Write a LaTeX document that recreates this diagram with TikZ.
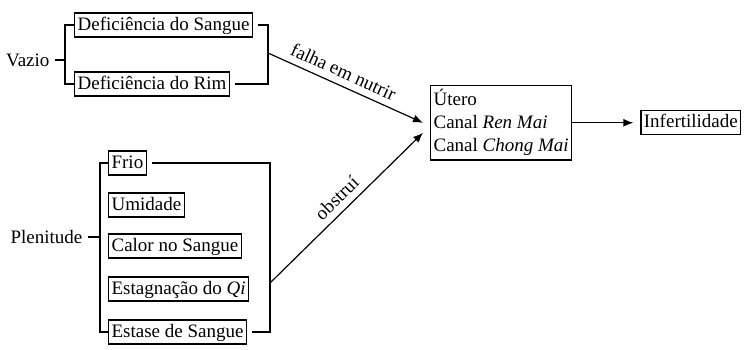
\documentclass[tikz,border=0pt]{standalone}
\usepackage{fontspec}
\setmainfont{Liberation Serif}
\usetikzlibrary{arrows.meta,positioning}

\begin{document}
\begin{tikzpicture}[x=0.5pt, y=-0.5pt, font=\fontsize{9.5}{11.5}\selectfont, line width=0.6pt,
  cause/.style={draw, anchor=west, inner sep=1.5pt, text height=7pt, text depth=2pt},
  group/.style={anchor=east, inner sep=0pt},
  flow/.style={-{Latex[length=5pt,width=4pt]}}]
  \useasboundingbox (0,0) rectangle (747,349);
  % vazio
  \node[group] (vazio) at (50,60) {Vazio};
  \node[cause] (sangue) at (74,25) {Deficiência do Sangue};
  \node[cause] (rim) at (74,84) {Deficiência do Rim};
  \coordinate (vl) at (65,60);
  \coordinate (vr) at (268,53);
  \draw ([xshift=2.5pt]vazio.east) -- (vl);
  \draw (sangue.west) -| (vl) |- (rim.west);
  \draw ([xshift=2.5pt]sangue.east) -| (vr) |- ([xshift=2.5pt]rim.east);
  % plenitude
  \node[group] (plenitude) at (83,237) {Plenitude};
  \node[cause] (frio) at (108,163) {Frio};
  \node[cause] (umidade) at (108,205) {Umidade};
  \node[cause] (calor) at (108,246) {Calor no Sangue};
  \node[cause] (estag) at (108,289) {Estagnação do \emph{Qi}};
  \node[cause] (estase) at (108,332) {Estase de Sangue};
  \coordinate (pl) at (100,237);
  \coordinate (pr) at (270,283);
  \draw ([xshift=2.5pt]plenitude.east) -- (pl);
  \draw (frio.west) -| (pl) |- (estase.west);
  \draw ([xshift=2.5pt]frio.east) -| (pr) |- ([xshift=2.5pt]estase.east);
  % utero
  \node[draw, align=left, anchor=north west, inner xsep=1.5pt, inner ysep=2pt] (utero) at (430,85)
    {Útero\\Canal \emph{Ren Mai}\\Canal \emph{Chong Mai}};
  \node[cause, right=34pt of utero] (infert) {Infertilidade};
  \draw[flow] (vr) -- node[sloped, above, pos=0.45] {falha em nutrir} ([xshift=-3.5pt]utero.west);
  \draw[flow] (pr) -- node[sloped, above, pos=0.5] {obstruí} ([shift={(-3.5pt,-5pt)}]utero.west);
  \draw[flow, shorten >=3.5pt] (utero) -- (infert);
\end{tikzpicture}
\end{document}
